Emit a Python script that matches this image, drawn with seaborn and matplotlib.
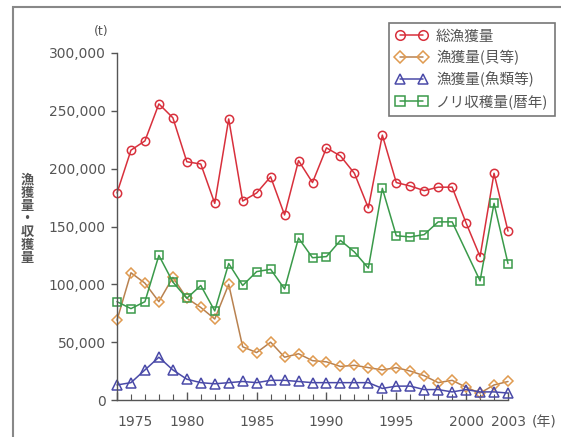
import numpy as np
import pandas as pd
import seaborn as sns
import matplotlib.pyplot as plt
from matplotlib.patches import Rectangle
from matplotlib.ticker import FuncFormatter, MultipleLocator

years = list(range(1975, 2004))

# 総漁獲量
total = [179000, 216000, 224000, 256000, 244000, 206000, 204000, 170000, 243000, 172000,
         179000, 193000, 160000, 207000, 188000, 218000, 211000, 196000, 166000, 229000,
         188000, 185000, 181000, 184000, 184000, 153000, 124000, 196000, 146000]
# 漁獲量(貝等)
shell = [69000, 110000, 101000, 85000, 106000, 88000, 80000, 70000, 100000, 46000,
         41000, 50000, 37000, 40000, 34000, 33000, 29000, 30000, 28000, 26000,
         28000, 25000, 21000, 15000, 17000, 11000, 6000, 13000, 16000]
# 漁獲量(魚類等)
fish = [13000, 15000, 26000, 37000, 26000, 18000, 15000, 14000, 15000, 16000,
        15000, 17000, 17000, 16000, 15000, 15000, 15000, 15000, 15000, 10000,
        12000, 12000, 9000, 9000, 7000, 9000, 7000, 7000, 6000]
# ノリ収穫量(暦年)  (2000 has no marker in the source)
nori = [85000, 79000, 85000, 125000, 102000, 88000, 99000, 77000, 118000, 99000,
        111000, 113000, 96000, 140000, 123000, 124000, 138000, 128000, 114000, 183000,
        142000, 141000, 143000, 154000, 154000, np.nan, 103000, 170000, 118000]

labels = ["総漁獲量", "漁獲量(貝等)", "漁獲量(魚類等)", "ノリ収穫量(暦年)"]
xticks = [1975, 1980, 1985, 1990, 1995, 2000, 2003]

df = pd.DataFrame({"year": years, labels[0]: total, labels[1]: shell,
                   labels[2]: fish, labels[3]: nori})

sns.set_theme(style="white")
plt.rcParams["font.family"] = ["DejaVu Sans", "Noto Sans CJK JP"]

fig = plt.figure(figsize=(5.61, 4.37), dpi=100)
ax = fig.add_axes([117 / 561, 1 - 400 / 437, (508 - 117) / 561, (400 - 53) / 437])

styles = [
    ("#d8303c", "#d8303c", "o", 6),
    ("#b98250", "#e09a50", "D", 5.5),
    ("#4a4aa8", "#4a4aa8", "^", 6.5),
    ("#3a9a4a", "#3a9a4a", "s", 6),
]
for lab, (lc, mc, mk, ms) in zip(labels, styles):
    sub = df[["year", lab]].dropna()
    sns.lineplot(data=sub, x="year", y=lab, ax=ax, color=lc, lw=1.1,
                 marker=mk, markersize=ms, markerfacecolor="none",
                 markeredgecolor=mc, markeredgewidth=1.1, clip_on=False,
                 label=lab)

ax.set_xlim(1975, 2003)
ax.set_ylim(0, 300000)
ax.set_xlabel("")
ax.set_ylabel("")
for s in ["top", "right"]:
    ax.spines[s].set_visible(False)
for s in ["left", "bottom"]:
    ax.spines[s].set_color("#555555")
    ax.spines[s].set_linewidth(1.0)

ax.yaxis.set_major_locator(MultipleLocator(50000))
ax.yaxis.set_major_formatter(FuncFormatter(lambda v, p: f"{int(v):,}"))
ax.tick_params(axis="y", direction="out", length=4, width=1, color="#555555",
               labelsize=10, labelcolor="#555555", pad=4, left=True)
ax.set_xticks(xticks)
ax.set_xticklabels([str(x) for x in xticks])
ax.xaxis.set_minor_locator(MultipleLocator(1))
ax.tick_params(axis="x", which="both", direction="in", color="#555555",
               labelsize=10, labelcolor="#555555", pad=11, bottom=True)
ax.tick_params(axis="x", which="major", length=6, width=1)
ax.tick_params(axis="x", which="minor", length=4, width=0.8)
ax.get_xticklabels()[0].set_horizontalalignment("left")

ax.annotate("(年)", xy=(544 / 561, 1 - 422 / 437), xycoords="figure fraction",
            ha="center", va="center", fontsize=10, color="#555555")
ax.annotate("(t)", xy=(101 / 561, 1 - 32 / 437), xycoords="figure fraction",
            ha="center", va="center", fontsize=9, color="#555555")
fig.text(27 / 561, 1 - 219 / 437, "漁\n獲\n量\n・\n収\n獲\n量", ha="center",
         va="center", fontsize=9.5, color="#555555", linespacing=0.92,
         fontweight="bold", family=["Noto Sans CJK JP", "DejaVu Sans"])

leg = ax.legend(loc="upper right", bbox_to_anchor=(555 / 561, 1 - 23 / 437),
                bbox_transform=fig.transFigure, borderaxespad=0, numpoints=2,
                handlelength=2.2, handletextpad=0.6, labelspacing=0.45,
                frameon=True, fancybox=False, framealpha=1, markerscale=1.15,
                borderpad=0.45, prop={"family": ["Noto Sans CJK JP", "DejaVu Sans"], "size": 10.5})
leg.get_frame().set_edgecolor("#777777")
leg.get_frame().set_linewidth(1.2)
for t in leg.get_texts():
    t.set_color("#555555")

fig.patches.append(Rectangle((13 / 561, -0.1), 1.2, 1.1 - 7 / 437,
                             transform=fig.transFigure, fill=False,
                             ec="#888888", lw=1.5, clip_on=False))

fig.savefig("out.png", dpi=100)
